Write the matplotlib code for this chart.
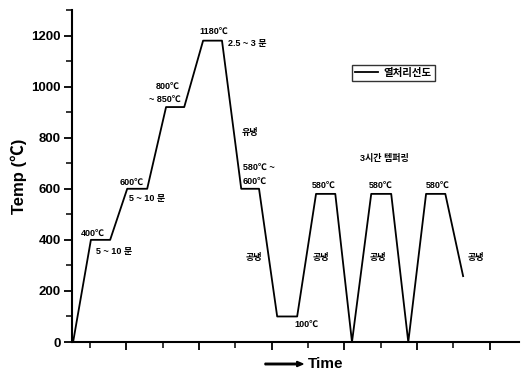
import matplotlib
matplotlib.use("Agg")
import matplotlib.pyplot as plt

plt.rcParams['font.family'] = ['Liberation Sans', 'Noto Sans CJK KR', 'DejaVu Sans']

# Heat-treatment profile (time in arbitrary units, temperature in ℃)
time_pts = [0.03, 0.52, 1.05, 1.52, 2.07, 2.59, 3.09, 3.61, 4.13, 4.66, 5.15,
            5.65, 6.20, 6.72, 7.25, 7.71, 8.24, 8.79, 9.26, 9.75, 10.28, 10.77]
temp_pts = [0, 400, 400, 600, 600, 920, 920, 1180, 1180, 600, 600,
            100, 100, 580, 580, 0, 580, 580, 0, 580, 580, 258]

yticks = [0, 200, 400, 600, 800, 1000, 1200]
legend_label = "열처리선도"
ylabel = "Temp (℃)"
xlabel = "Time"

# annotations: (text, x, y, ha)
annots = [
    ("400℃", 0.57, 425, "center"),
    ("5 ~ 10 분", 0.65, 355, "left"),
    ("600℃", 1.65, 625, "center"),
    ("5 ~ 10 분", 1.58, 562, "left"),
    ("800℃", 2.64, 1000, "center"),
    ("~ 850℃", 2.56, 950, "center"),
    ("1180℃", 3.91, 1215, "center"),
    ("2.5 ~ 3 분", 4.30, 1168, "left"),
    ("유냉", 4.90, 820, "center"),
    ("580℃ ~", 4.71, 685, "left"),
    ("600℃", 4.71, 630, "left"),
    ("3시간 템퍼링", 8.60, 720, "center"),
    ("580℃", 6.94, 615, "center"),
    ("580℃", 8.51, 615, "center"),
    ("580℃", 10.08, 615, "center"),
    ("공냉", 5.02, 330, "center"),
    ("공냉", 6.86, 330, "center"),
    ("공냉", 8.43, 330, "center"),
    ("공냉", 11.13, 330, "center"),
    ("100℃", 6.45, 68, "center"),
]

fig = plt.figure(figsize=(5.23, 3.76), dpi=100)
ax = fig.add_axes([0.1377, 0.0904, 0.8547, 0.883])

ax.plot(time_pts, temp_pts, color="black", lw=1.3, label=legend_label)

ax.set_xlim(0, 12.31)
ax.set_ylim(0, 1300)
ax.spines['top'].set_visible(False)
ax.spines['right'].set_visible(False)
ax.spines['left'].set_linewidth(1.5)
ax.spines['bottom'].set_linewidth(1.5)

ax.set_yticks(yticks)
ax.set_yticks([100, 300, 500, 700, 900, 1100, 1300], minor=True)
ax.set_yticklabels([str(v) for v in yticks], fontsize=9.5, fontweight='bold')
ax.set_xticks([1.5, 3.5, 5.5, 7.5, 9.5, 11.5])
ax.set_xticks([0.5, 2.5, 4.5, 6.5, 8.5, 10.5], minor=True)
ax.set_xticklabels([])
ax.tick_params(axis='both', which='major', direction='out', length=6, width=1.3)
ax.tick_params(axis='both', which='minor', direction='out', length=4, width=1.1)
ax.tick_params(axis='y', pad=2)

ax.set_ylabel(ylabel, fontsize=12, fontweight='bold', labelpad=3)

# x label with arrow
fig.text(0.623, 0.022, xlabel, fontsize=11, fontweight='bold', ha='center', va='baseline')
fig.patches.append(matplotlib.patches.FancyArrow(
    265 / 523, 1 - 364 / 376, 38 / 523, 0, width=0.004, head_width=0.014,
    head_length=0.012, length_includes_head=True, color='black',
    transform=fig.transFigure, figure=fig))

for txt, x, y, ha in annots:
    ax.text(x, y, txt, fontsize=6.5, fontweight='bold', ha=ha, va='center')

leg = ax.legend(loc='upper left', bbox_to_anchor=(0.615, 0.85), fontsize=7.5,
                frameon=True, fancybox=False, edgecolor='black', handlelength=2.2,
                borderpad=0.3, handletextpad=0.5)
leg.get_frame().set_linewidth(1.0)
for t in leg.get_texts():
    t.set_fontweight('bold')

fig.savefig("out.png", dpi=100)
